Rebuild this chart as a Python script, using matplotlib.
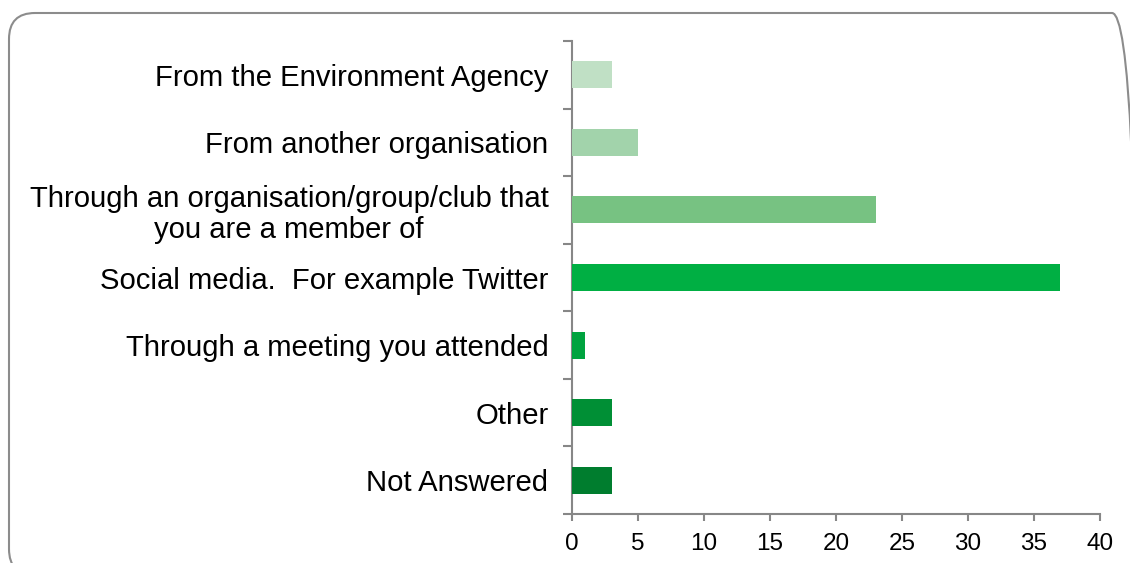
import matplotlib
matplotlib.use("Agg")
import matplotlib.pyplot as plt
from matplotlib.patches import FancyBboxPatch
from matplotlib.ticker import FixedLocator

categories = [
    "From the Environment Agency",
    "From another organisation",
    "Through an organisation/group/club that\nyou are a member of",
    "Social media.  For example Twitter",
    "Through a meeting you attended",
    "Other",
    "Not Answered",
]
values = [3, 5, 23, 37, 1, 3, 3]
colors = ["#C0E0C5", "#A2D3AB", "#77C282", "#00AF43", "#00A33F", "#008F35", "#007D2E"]
x_ticks = [0, 5, 10, 15, 20, 25, 30, 35, 40]

plt.rcParams["font.family"] = ["Liberation Sans", "DejaVu Sans"]

W, H = 1130, 563
fig = plt.figure(figsize=(W / 100, H / 100), dpi=100)
fig.patch.set_facecolor("white")

# background axes in pixel units for the rounded outer border
bg = fig.add_axes([0, 0, 1, 1], zorder=0)
bg.set_xlim(0, W)
bg.set_ylim(0, H)
bg.axis("off")
border = FancyBboxPatch((9, H - 575), 1138 - 9, 575 - 13,
                        boxstyle="round,pad=0,rounding_size=26",
                        facecolor="none", edgecolor="#8C8C8C", linewidth=1.5,
                        clip_on=False)
bg.add_patch(border)

ax = fig.add_axes([572 / W, 1 - 514 / H, (1100 - 572) / W, (514 - 41) / H], zorder=1)
ax.patch.set_alpha(0)

ypos = list(range(len(categories)))
ax.barh(ypos, values, height=0.4, color=colors, zorder=3)

ax.set_xlim(0, 40)
ax.set_ylim(len(categories) - 0.5, -0.5)

ax.set_xticks(x_ticks)
ax.set_xticklabels([str(t) for t in x_ticks])
ax.set_yticks(ypos)
ax.set_yticklabels(categories)
for lab in ax.get_yticklabels():
    lab.set_multialignment("center")
    lab.set_linespacing(1.12)

ax.yaxis.set_minor_locator(FixedLocator([i - 0.5 for i in range(len(categories) + 1)]))

for s in ["top", "right"]:
    ax.spines[s].set_visible(False)
for s in ["left", "bottom"]:
    ax.spines[s].set_color("#878787")
    ax.spines[s].set_linewidth(1.5)

ax.tick_params(axis="y", which="major", length=0, pad=17, labelsize=21.1, labelcolor="black")
ax.tick_params(axis="y", which="minor", length=6.5, width=1.5, color="#878787", direction="out")
ax.tick_params(axis="x", which="major", length=4.7, width=1.5, color="#878787", direction="out",
               labelsize=17.5, pad=9, labelcolor="black")

fig.savefig("out.png", dpi=100)
